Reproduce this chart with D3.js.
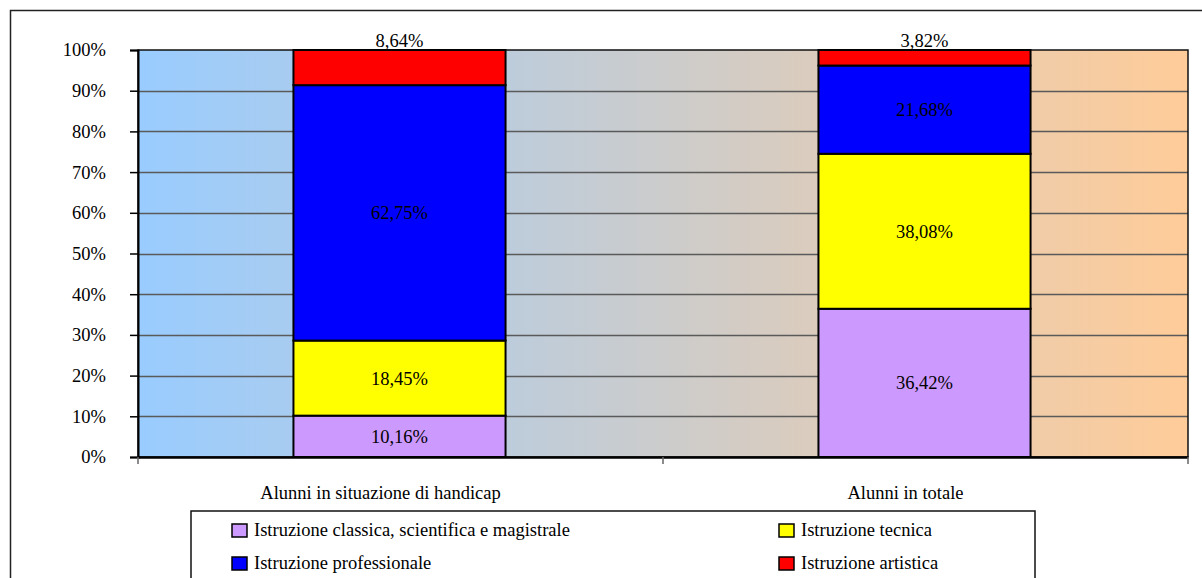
<!DOCTYPE html>
<html>
<head>
<meta charset="utf-8">
<script src="https://cdn.jsdelivr.net/npm/d3@7"></script>
<style>
html,body{margin:0;padding:0;background:#fff;}
svg{display:block;}
text{font-family:"Liberation Serif","Times New Roman",serif;fill:#000;}
</style>
</head>
<body>
<svg id="chart" width="1202" height="578"></svg>
<script>
// ---- data ----
const categories = ["Alunni in situazione di handicap", "Alunni in totale"];
const seriesNames = ["Istruzione classica, scientifica e magistrale", "Istruzione tecnica", "Istruzione professionale", "Istruzione artistica"];
const classica = [10.16, 36.42];
const tecnica = [18.45, 38.08];
const professionale = [62.75, 21.68];
const artistica = [8.64, 3.82];
const yTicks = [0, 10, 20, 30, 40, 50, 60, 70, 80, 90, 100];
const seriesColors = ["#CC99FF", "#FFFF00", "#0000FF", "#FF0000"];

const seriesValues = [classica, tecnica, professionale, artistica];
const rows = categories.map((c, i) => {
  const r = {category: c};
  seriesNames.forEach((s, j) => r[s] = seriesValues[j][i]);
  return r;
});

const FS = 18.5;
const svg = d3.select("#chart");
const plot = {left: 138, right: 1188, top: 50, bottom: 457};

// outer chart border
svg.append("rect").attr("x", 10.5).attr("y", 10.5).attr("width", 1220).attr("height", 620)
  .attr("fill", "none").attr("stroke", "#222").attr("stroke-width", 1.5);

const x = d3.scaleBand().domain(categories).range([plot.left, plot.right]).padding(0);
const y = d3.scaleLinear().domain([0, 100]).range([plot.bottom, plot.top]);
const barW = x.bandwidth() * 0.404;

// background gradient
const defs = svg.append("defs");
const grad = defs.append("linearGradient").attr("id", "bg").attr("x1", "0%").attr("x2", "100%").attr("y1", "0%").attr("y2", "0%");
grad.append("stop").attr("offset", "0%").attr("stop-color", "#99CCFF");
grad.append("stop").attr("offset", "100%").attr("stop-color", "#FFCC99");
svg.append("rect").attr("x", plot.left).attr("y", plot.top)
  .attr("width", plot.right - plot.left).attr("height", plot.bottom - plot.top)
  .attr("fill", "url(#bg)");

// gridlines
svg.append("g").selectAll("line").data(yTicks.filter(t => t > 0 && t < 100)).join("line")
  .attr("x1", plot.left).attr("x2", plot.right)
  .attr("y1", d => Math.round(y(d)) + 0.5).attr("y2", d => Math.round(y(d)) + 0.5)
  .attr("stroke", "#5a5a5a").attr("stroke-width", 1.5);

// plot border
svg.append("rect").attr("x", plot.left).attr("y", plot.top)
  .attr("width", plot.right - plot.left).attr("height", plot.bottom - plot.top)
  .attr("fill", "none").attr("stroke", "#111").attr("stroke-width", 1.5);

// stacked bars
const stack = d3.stack().keys(seriesNames)(rows);
const layers = svg.append("g").selectAll("g").data(stack).join("g")
  .attr("fill", (d, i) => seriesColors[i]);
layers.selectAll("rect").data(d => d).join("rect")
  .attr("x", d => x(d.data.category) + (x.bandwidth() - barW) / 2 - 1)
  .attr("y", d => y(d[1]))
  .attr("width", barW)
  .attr("height", d => y(d[0]) - y(d[1]))
  .attr("stroke", "#000").attr("stroke-width", 2);

// data labels
const fmt = v => v.toFixed(2).replace(".", ",") + "%";
stack.forEach((layer, li) => {
  svg.append("g").selectAll("text").data(layer).join("text")
    .attr("x", d => x(d.data.category) + x.bandwidth() / 2 - 1)
    .attr("y", d => li === stack.length - 1 ? y(d[1]) - 3 : (y(d[0]) + y(d[1])) / 2)
    .attr("dy", li === stack.length - 1 ? "0" : "0.35em")
    .attr("text-anchor", "middle")
    .attr("font-size", FS)
    .text(d => fmt(d.data[layer.key]));
});

// y axis
const yAxis = svg.append("g").attr("transform", `translate(${plot.left},0)`)
  .call(d3.axisLeft(y).tickValues(yTicks).tickFormat(d => d + "%").tickSize(8).tickPadding(24));
yAxis.select(".domain").attr("stroke", "#000").attr("stroke-width", 2);
yAxis.selectAll(".tick line").attr("stroke", "#000").attr("stroke-width", 1.5);
yAxis.selectAll(".tick text").attr("font-size", FS).attr("font-family", "Liberation Serif, serif").attr("fill", "#000");

// x axis
const xAxis = svg.append("g").attr("transform", `translate(0,${plot.bottom})`)
  .call(d3.axisBottom(x).tickSize(0).tickPadding(29));
xAxis.select(".domain").attr("stroke", "#000").attr("stroke-width", 2.5);
xAxis.selectAll(".tick text").attr("font-size", FS).attr("font-family", "Liberation Serif, serif").attr("fill", "#000")
  .attr("dx", -20);
// category boundary ticks
const bounds = categories.map(c => x(c)).concat([plot.right]);
svg.append("g").selectAll("line").data(bounds).join("line")
  .attr("x1", d => d).attr("x2", d => d).attr("y1", plot.bottom).attr("y2", plot.bottom + 7)
  .attr("stroke", "#666").attr("stroke-width", 1.5);

// legend
const legend = svg.append("g");
legend.append("rect").attr("x", 191).attr("y", 511).attr("width", 844).attr("height", 120)
  .attr("fill", "#fff").attr("stroke", "#111").attr("stroke-width", 1.5);
const legendPos = [[232, 530], [779, 530], [232, 563], [779, 563]];
seriesNames.forEach((s, i) => {
  const [lx, ly] = legendPos[i];
  legend.append("rect").attr("x", lx).attr("y", ly - 6).attr("width", 15).attr("height", 13)
    .attr("fill", seriesColors[i]).attr("stroke", "#000").attr("stroke-width", 1.5);
  legend.append("text").attr("x", lx + 22).attr("y", ly).attr("dy", "0.35em")
    .attr("font-size", FS).text(s);
});
</script>
</body>
</html>
